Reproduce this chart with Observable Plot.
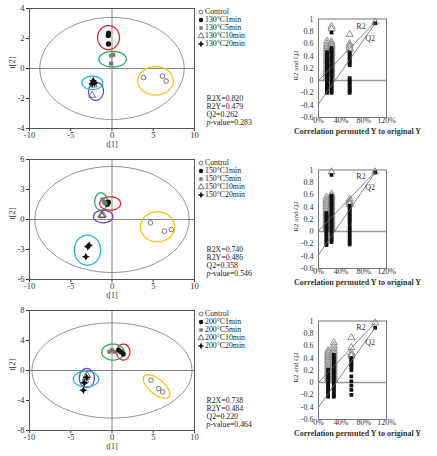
<!DOCTYPE html>
<html><head><meta charset="utf-8">
<script src="https://cdn.jsdelivr.net/npm/d3@7"></script>
<script src="https://cdn.jsdelivr.net/npm/@observablehq/plot@0.6"></script>
<style>
html,body{margin:0;padding:0;background:#fff;}
#root{position:relative;width:437px;height:456px;overflow:hidden;font-family:"Liberation Serif","Times New Roman",serif;color:#222;}
.abs{position:absolute;}
.lg{position:absolute;font-size:7.8px;line-height:7.6px;height:7.6px;white-space:nowrap;}
.lg svg{position:absolute;left:-7px;top:0.5px;overflow:visible;}
</style></head>
<body><div id="root"></div>
<script>
// ---------- shared ----------
const groupNames = ["Control", "1min", "5min", "10min", "20min"];
const temps = ["130", "150", "200"];
const ellipseColors = ["#f3c21c", "#e3262c", "#2fa866", "#7b46a8", "#2ab4e4"];
const group = [0,0,0, 1,1,1, 2,2,2, 3,3,3, 4,4,4];
const xTicksScore = [-10, -5, 0, 5, 10];
const xTicksPerm = [0, 40, 80, 120];
const yTicksPerm = [-0.6, -0.4, -0.2, 0, 0.2, 0.4, 0.6, 0.8, 1];
const statNames = ["R2X", "R2Y", "Q2", "p-value"];

// ---------- 130 °C ----------
const t1_130 = [3.82, 6.12, 6.57, -0.42, -0.45, -0.43, -0.1, 0.15, -0.1, -2.3, -2.2, -2.4, -2.28, -2.12, -2.4];
const t2_130 = [-0.6, -0.51, -0.84, 2.36, 2.2, 1.64, 0.86, 0.92, 0.33, -0.95, -1.1, -1.78, -0.82, -0.96, -1.02];
const ellCx_130 = [5.28, -0.42, 0.08, -1.94, -2.38];
const ellCy_130 = [-0.82, 2.06, 0.62, -1.52, -0.96];
const ellAx_130 = [2.15, 1.33, 1.67, 0.9, 1.27];
const ellAy_130 = [0, 0, 0, -0.06, 0];
const ellBx_130 = [0, 0, 0, 0.12, 0];
const ellBy_130 = [0.95, 0.8, 0.52, 0.6, 0.45];
const hotelling_130 = [8.75, 3.4];
const yDomain_130 = [-4, 4];
const yTicks_130 = [-4, -2, 0, 2, 4];
const stats_130 = ["0.820", "0.479", "0.262", "0.283"];
const permCorr_130 = [15, 23, 55];
const permR2_130 = [
  [0.64,0.6,0.56,0.53,0.5,0.47,0.44,0.42,0.39,0.36,0.33,0.31,0.28,0.25,0.22,0.19,0.17,0.14,0.11,0.08,0.05,0.03],
  [0.88,0.84,0.63,0.6,0.57,0.55,0.52,0.49,0.46,0.44,0.41,0.38,0.35,0.32,0.3,0.27,0.24,0.21,0.18,0.15,0.12,0.09,0.06],
  [0.75,0.6,0.57,0.54,0.5]];
const permQ2_130 = [
  [0.46,0.43,0.41,0.38,0.35,0.33,0.3,0.27,0.24,0.22,0.19,0.16,0.13,0.11,0.08,0.05,0.02,-0.01,-0.04,-0.07,-0.1,-0.12,-0.15,-0.18,-0.2],
  [0.78,0.53,0.5,0.48,0.45,0.42,0.39,0.37,0.34,0.31,0.28,0.25,0.23,0.2,0.17,0.14,0.11,0.09,0.06,0.03,0.0,-0.03,-0.06,-0.09,-0.11,-0.14,-0.17,-0.2],
  [0.46,0.43,0.4,0.37,0.34,0.31,0.28,0.25,0.04,0.01,-0.02,-0.05,-0.08,-0.11,-0.14,-0.17,-0.2]];
const origR2_130 = 0.95, origQ2_130 = 0.93;
const interceptR2_130 = 0.0, interceptQ2_130 = -0.38;

// ---------- 150 °C ----------
const t1_150 = [4.66, 6.35, 7.19, -0.76, -0.56, -0.44, -1.16, -0.96, -0.8, -1.3, -1.2, -1.1, -2.77, -2.93, -3.17];
const t2_150 = [-0.33, -1.17, -1.0, 1.67, 1.53, 1.73, 2.0, 1.77, 1.6, 0.42, 0.38, 0.45, -2.57, -2.73, -3.73];
const ellCx_150 = [5.52, -0.22, -1.33, -1.06, -2.97];
const ellCy_150 = [-0.73, 1.6, 1.8, 0.3, -3.07];
const ellAx_150 = [2.07, 1.27, 0.76, 1.18, 1.6];
const ellAy_150 = [0, 0, 0, 0, 0];
const ellBx_150 = [0, 0, 0, 0, 0];
const ellBy_150 = [1.5, 0.67, 0.87, 0.63, 1.5];
const hotelling_150 = [9.35, 5.3];
const yDomain_150 = [-6, 6];
const yTicks_150 = [-6, -3, 0, 3, 6];
const stats_150 = ["0.740", "0.486", "0.358", "0.546"];
const permCorr_150 = [14, 23, 55];
const permR2_150 = [
  [0.56,0.52,0.49,0.46,0.43,0.4,0.37,0.34,0.31,0.29,0.26,0.23,0.2,0.17,0.14,0.11,0.08,0.05,0.03],
  [0.97,0.61,0.58,0.55,0.52,0.49,0.46,0.43,0.4,0.37,0.34,0.31,0.28,0.25,0.22,0.19,0.16,0.13,0.1,0.07,0.04],
  [0.53,0.49,0.46,0.44]];
const permQ2_150 = [
  [0.3,0.27,0.25,0.22,0.19,0.16,0.13,0.1,0.08,0.05,0.02,-0.01,-0.04,-0.07,-0.1,-0.13,-0.16,-0.19,-0.22],
  [0.92,0.58,0.55,0.52,0.49,0.46,0.43,0.4,0.37,0.34,0.31,0.28,0.25,0.22,0.19,0.16,0.13,0.1,0.07,0.04,0.01,-0.02,-0.05,-0.08,-0.11,-0.14,-0.17],
  [0.42,0.39,0.36,0.33,0.3,0.27,0.24,0.21,0.18,0.15,0.1,0.06,0.02,-0.02,-0.06,-0.1,-0.14,-0.18,-0.21]];
const origR2_150 = 0.97, origQ2_150 = 0.96;
const interceptR2_150 = 0.01, interceptQ2_150 = -0.38;

// ---------- 200 °C ----------
const t1_200 = [4.73, 5.66, 6.14, 0.81, 1.09, 1.37, -0.32, 0.0, 0.28, -3.03, -3.15, -3.25, -3.07, -3.35, -3.47];
const t2_200 = [-1.29, -2.41, -2.86, 2.72, 2.5, 2.19, 2.5, 2.72, 2.5, -0.63, -0.95, -1.3, -0.94, -1.65, -2.63];
const ellCx_200 = [5.41, 1.37, 0.12, -3.05, -3.15];
const ellCy_200 = [-2.14, 2.46, 2.46, -1.0, -1.14];
const ellAx_200 = [1.51, 0.81, 1.37, 0.91, 1.54];
const ellAy_200 = [-1.39, 0, 0, 0, 0];
const ellBx_200 = [-0.57, 0, 0, 0, 0];
const ellBy_200 = [-0.75, 1.07, 1.07, 1.27, 1.05];
const hotelling_200 = [9.7, 6.35];
const yDomain_200 = [-8, 8];
const yTicks_200 = [-8, -4, 0, 4, 8];
const stats_200 = ["0.738", "0.484", "0.220", "0.464"];
const permCorr_200 = [17, 27, 58];
const permR2_200 = [
  [0.52,0.49,0.46,0.43,0.4,0.37,0.35,0.32,0.29,0.26,0.24,0.21,0.18,0.15,0.12,0.09,0.06,0.03],
  [0.65,0.6,0.56,0.52,0.49,0.46,0.43,0.4,0.37,0.34,0.31,0.28,0.25,0.22,0.19,0.16,0.13,0.1,0.07,0.04],
  [0.73,0.57,0.48,0.45,0.43]];
const permQ2_200 = [
  [0.21,0.18,0.15,0.12,0.09,0.06,0.03,0.0,-0.03,-0.06,-0.09,-0.12,-0.15,-0.18,-0.21,-0.23],
  [0.45,0.42,0.39,0.36,0.33,0.3,0.27,0.24,0.21,0.18,0.15,0.12,0.09,0.06,0.03,0.0,-0.03,-0.06,-0.09,-0.12,-0.15,-0.18,-0.21,-0.23],
  [0.4,0.37,0.34,0.31,0.28,0.25,0.2,0.1,0.02,-0.05,-0.12,-0.2]];
const origR2_200 = 0.97, origQ2_200 = 0.89;
const interceptR2_200 = 0.0, interceptQ2_200 = -0.4;

// ---------- assemble ----------
const rows = [
  {temp: temps[0], t1: t1_130, t2: t2_130, cx: ellCx_130, cy: ellCy_130, ax: ellAx_130, ay: ellAy_130, bx: ellBx_130, by: ellBy_130, hot: hotelling_130, ydom: yDomain_130, yticks: yTicks_130, stats: stats_130, pc: permCorr_130, pR2: permR2_130, pQ2: permQ2_130, oR2: origR2_130, oQ2: origQ2_130, iR2: interceptR2_130, iQ2: interceptQ2_130},
  {temp: temps[1], t1: t1_150, t2: t2_150, cx: ellCx_150, cy: ellCy_150, ax: ellAx_150, ay: ellAy_150, bx: ellBx_150, by: ellBy_150, hot: hotelling_150, ydom: yDomain_150, yticks: yTicks_150, stats: stats_150, pc: permCorr_150, pR2: permR2_150, pQ2: permQ2_150, oR2: origR2_150, oQ2: origQ2_150, iR2: interceptR2_150, iQ2: interceptQ2_150},
  {temp: temps[2], t1: t1_200, t2: t2_200, cx: ellCx_200, cy: ellCy_200, ax: ellAx_200, ay: ellAy_200, bx: ellBx_200, by: ellBy_200, hot: hotelling_200, ydom: yDomain_200, yticks: yTicks_200, stats: stats_200, pc: permCorr_200, pR2: permR2_200, pQ2: permQ2_200, oR2: origR2_200, oQ2: origQ2_200, iR2: interceptR2_200, iQ2: interceptQ2_200}
];
const rowTop = [0, 151, 302];

// 4-point star symbol for the 20 min group
const star4 = {draw(ctx, size) {
  const r = Math.sqrt(size / Math.PI) * 1.35, w = r * 0.32;
  ctx.moveTo(0, -r); ctx.lineTo(w, -w); ctx.lineTo(r, 0); ctx.lineTo(w, w);
  ctx.lineTo(0, r); ctx.lineTo(-w, w); ctx.lineTo(-r, 0); ctx.lineTo(-w, -w); ctx.closePath();
}};
const dotStyles = [
  {symbol: "circle", r: 2.3, fill: "white", stroke: "#555", strokeWidth: 0.8},
  {symbol: "circle", r: 2.6, fill: "#111"},
  {symbol: "square", r: 2.3, fill: "#777"},
  {symbol: "triangle", r: 2.6, fill: "none", stroke: "#555", strokeWidth: 0.8},
  {symbol: star4, r: 3, fill: "#111"}
];

function ellipsePts(cx, cy, ax, ay, bx, by) {
  const pts = [];
  for (let k = 0; k <= 90; k++) {
    const t = 2 * Math.PI * k / 90;
    pts.push({x: cx + ax * Math.cos(t) + bx * Math.sin(t), y: cy + ay * Math.cos(t) + by * Math.sin(t)});
  }
  return pts;
}
const baseStyle = {fontFamily: "'Liberation Serif', 'Times New Roman', serif", fontSize: "8.5px", color: "#333", background: "transparent", overflow: "visible"};

function scorePlot(r) {
  const data = r.t1.map((v, i) => ({t1: v, t2: r.t2[i], g: group[i]}));
  const ellMarks = r.cx.map((cx, i) => Plot.line(ellipsePts(cx, r.cy[i], r.ax[i], r.ay[i], r.bx[i], r.by[i]), {x: "x", y: "y", stroke: ellipseColors[i], strokeWidth: 1.3}));
  const dotMarks = groupNames.map((_, gi) => Plot.dot(data.filter(d => d.g === gi), {x: "t1", y: "t2", ...dotStyles[gi]}));
  return Plot.plot({
    width: 200, height: 150, marginLeft: 29, marginRight: 6, marginTop: 8, marginBottom: 22,
    style: baseStyle,
    x: {domain: [-10, 10], ticks: xTicksScore, tickSize: 3, tickPadding: 0, tickFormat: d => String(d), label: null},
    y: {domain: r.ydom, ticks: r.yticks, tickSize: 3, tickPadding: 2, tickFormat: d => String(d), label: null},
    marks: [
      Plot.ruleX([0], {stroke: "#888", strokeWidth: 1}),
      Plot.ruleY([0], {stroke: "#888", strokeWidth: 1}),
      Plot.line(ellipsePts(0, 0, r.hot[0], 0, 0, r.hot[1]), {x: "x", y: "y", stroke: "#777", strokeWidth: 0.8}),
      ...ellMarks,
      ...dotMarks,
      Plot.frame({stroke: "#555"}),
      Plot.text(["t[1]"], {frameAnchor: "bottom", dy: 15.5, lineAnchor: "middle", text: d => d, fontSize: 8}),
      Plot.text(["t[2]"], {frameAnchor: "left", dx: -17, rotate: -90, lineAnchor: "middle", text: d => d, fontSize: 8})
    ]
  });
}

function permPlot(r) {
  const tri = [], sq = [];
  r.pc.forEach((x, c) => {
    r.pR2[c].forEach(v => tri.push({x, y: v}));
    r.pQ2[c].forEach(v => sq.push({x, y: v}));
  });
  tri.push({x: 100, y: r.oR2});
  sq.push({x: 100, y: r.oQ2});
  const lines = [{x: 0, y: r.iR2, s: "R2"}, {x: 100, y: r.oR2, s: "R2"}, {x: 0, y: r.iQ2, s: "Q2"}, {x: 100, y: r.oQ2, s: "Q2"}];
  const r2lab = [{x: 75, y: r.iR2 + (r.oR2 - r.iR2) * 0.75, s: "R2"}];
  const q2lab = [{x: 91, y: r.iQ2 + (r.oQ2 - r.iQ2) * 0.91, s: "Q2"}];
  return Plot.plot({
    width: 147, height: 150, marginLeft: 28, marginRight: 51, marginTop: 18.5, marginBottom: 33,
    style: {...baseStyle, fontSize: "8px"},
    x: {domain: [0, 120], ticks: xTicksPerm, tickSize: 0, tickPadding: 0, tickFormat: d => d + "%", label: null},
    y: {domain: [-0.6, 1], ticks: yTicksPerm, tickSize: 0, tickPadding: 5,
        tickFormat: d => (Math.abs(d) < 1e-9 ? "0" : d === 1 ? "1" : d.toFixed(1)), label: null},
    marks: [
      Plot.ruleY([0], {stroke: "#999", strokeWidth: 1.4}),
      Plot.dot(tri, {x: "x", y: "y", symbol: "triangle", r: 2.6, fill: "white", stroke: "#777", strokeWidth: 0.8}),
      Plot.dot(sq, {x: "x", y: "y", symbol: "square", r: 2.1, fill: "#111"}),
      Plot.line(lines, {x: "x", y: "y", z: "s", stroke: "#666", strokeWidth: 0.8}),
      Plot.text(r2lab, {x: "x", y: "y", text: "s", dy: -10, fontSize: 8}),
      Plot.text(q2lab, {x: "x", y: "y", text: "s", dy: 8, fontSize: 8}),
      Plot.frame({stroke: "#777"}),
      Plot.text([0], {y: d => d, frameAnchor: "left", dx: -23, rotate: -90, text: () => "R2 and Q2", fontSize: 7}),
      Plot.text(["Correlation permuted Y to original Y"], {frameAnchor: "bottom", dy: 13.8, dx: 5, lineAnchor: "middle", text: d => d, fontWeight: "bold", fontSize: 8})
    ]
  });
}

function markerSvg(gi) {
  const st = dotStyles[gi];
  const sym = typeof st.symbol === "string" ? {circle: d3.symbolCircle, square: d3.symbolSquare, triangle: d3.symbolTriangle}[st.symbol] : st.symbol;
  const path = d3.symbol(sym, Math.PI * st.r * st.r * 0.7)();
  return `<svg width="6" height="6" viewBox="-3 -3 6 6"><path d="${path}" fill="${st.fill}" stroke="${st.stroke || "none"}" stroke-width="${st.strokeWidth || 0}"/></svg>`;
}

const root = document.getElementById("root");
rows.forEach((r, ri) => {
  const top = rowTop[ri];
  const s = scorePlot(r);
  s.classList.add("abs"); s.style.left = "0px"; s.style.top = top + "px";
  root.appendChild(s);
  const p = permPlot(r);
  p.classList.add("abs"); p.style.left = "290px"; p.style.top = top + "px";
  root.appendChild(p);
  // legend
  groupNames.forEach((g, gi) => {
    const div = document.createElement("div");
    div.className = "lg";
    div.style.left = "205px";
    div.style.top = (top + 12 + gi * 8 - 3.8) + "px";
    div.innerHTML = markerSvg(gi) + (gi === 0 ? "Control" : r.temp + "°C" + g);
    root.appendChild(div);
  });
  // stats
  statNames.forEach((n, k) => {
    const div = document.createElement("div");
    div.className = "lg";
    div.style.left = "206.5px";
    div.style.top = (top + 99 + k * 8 - 3.8) + "px";
    div.innerHTML = (n === "p-value" ? "<i>p</i>-value" : n) + "=" + r.stats[k];
    root.appendChild(div);
  });
});
</script>
</body></html>
